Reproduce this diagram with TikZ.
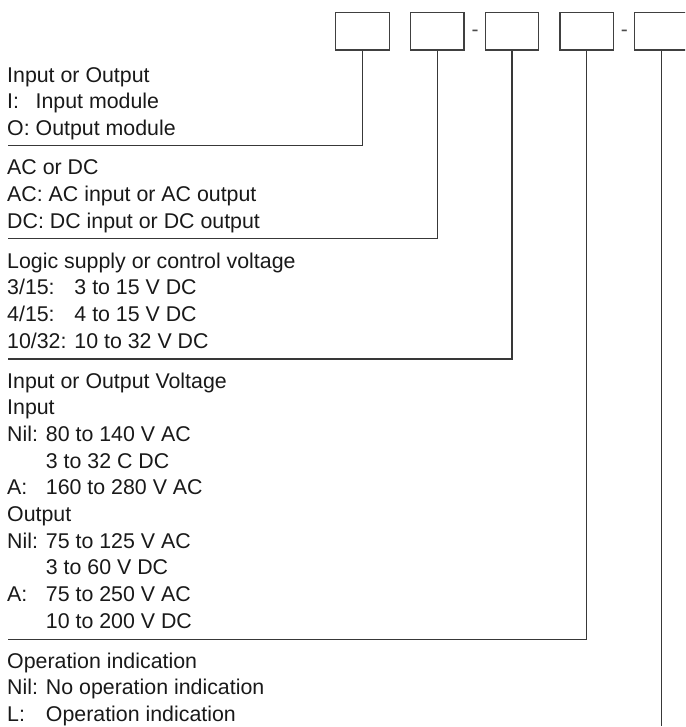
\documentclass[tikz,border=0pt]{standalone}
\usepackage{fontspec}
\setmainfont{Liberation Sans}
% label #2 set in a slot as wide as the text #1
\newcommand{\codelab}[2]{\makebox[0pt][l]{#2}\hphantom{#1}}
\begin{document}
\begin{tikzpicture}[x=1pt,y=-1pt,
  rule/.style={draw=black!78,line width=1.1pt},
  codebox/.style={draw=black!75,line width=1.1pt,minimum width=53.5pt,minimum height=37.7pt,inner sep=0pt},
  txt/.style={anchor=base west,inner sep=0pt,font=\fontsize{21.35}{25}\selectfont,text=black!90},
  sep/.style={anchor=base,inner sep=0pt,font=\fontsize{21}{25}\selectfont,text=black!70}]
\useasboundingbox (0,0) rectangle (685,727);
\clip (0,0) rectangle (685,727);
% code boxes
\node[codebox] (b1) at (362.5,31.2) {};
\node[codebox] (b2) at (437.2,31.2) {};
\node[codebox] (b3) at (512.0,31.2) {};
\node[codebox] (b4) at (586.7,31.2) {};
\node[codebox] (b5) at (661.5,31.2) {};
\node[sep] (d1) at (475,36.5) {-};
\node[sep] (d2) at (624.3,36.5) {-};
% group 1
\node[txt] (t1) at (7,82.3) {Input or Output};
\node[txt] (t2) at (7,109.0) {\codelab{O: }{I:}Input module};
\node[txt] (t3) at (7,135.7) {O: Output module};
% group 2
\node[txt] (t4) at (7,175.0) {AC or DC};
\node[txt] (t5) at (7,201.7) {AC: AC input or AC output};
\node[txt] (t6) at (7,228.4) {DC: DC input or DC output};
% group 3
\node[txt] (t7) at (7,268.0) {Logic supply or control voltage};
\node[txt] (t8) at (7,294.7) {\codelab{10/32: }{3/15:}3 to 15 V DC};
\node[txt] (t9) at (7,321.4) {\codelab{10/32: }{4/15:}4 to 15 V DC};
\node[txt] (t10) at (7,348.1) {10/32: 10 to 32 V DC};
% group 4
\node[txt] (t11) at (7,388.0) {Input or Output Voltage};
\node[txt] (t12) at (7,414.7) {Input};
\node[txt] (t13) at (7,441.4) {Nil: 80 to 140 V AC};
\node[txt] (t14) at (7,468.1) {\codelab{Nil: }{}3 to 32 C DC};
\node[txt] (t15) at (7,494.8) {\codelab{Nil: }{A:}160 to 280 V AC};
\node[txt] (t16) at (7,521.5) {Output};
\node[txt] (t17) at (7,548.2) {Nil: 75 to 125 V AC};
\node[txt] (t18) at (7,574.9) {\codelab{Nil: }{}3 to 60 V DC};
\node[txt] (t19) at (7,601.6) {\codelab{Nil: }{A:}75 to 250 V AC};
\node[txt] (t20) at (7,628.3) {\codelab{Nil: }{}10 to 200 V DC};
% group 5
\node[txt] (t21) at (7,668.0) {Operation indication};
\node[txt] (t22) at (7,694.7) {Nil: No operation indication};
\node[txt] (t23) at (7,721.4) {\codelab{Nil: }{L:}Operation indication};
% leader lines
\coordinate (e1) at (8,145.3);
\coordinate (e2) at (8,238.8);
\coordinate (e3) at (8,359.0);
\coordinate (e4) at (8,639.3);
\coordinate (e5) at (661.5,726);
\draw[rule] (b1.south) |- (e1);
\draw[rule] (b2.south) |- (e2);
\draw[rule] (b3.south) |- (e3);
\draw[rule] (b4.south) |- (e4);
\draw[rule] (b5.south) -- (e5);
\end{tikzpicture}
\end{document}
